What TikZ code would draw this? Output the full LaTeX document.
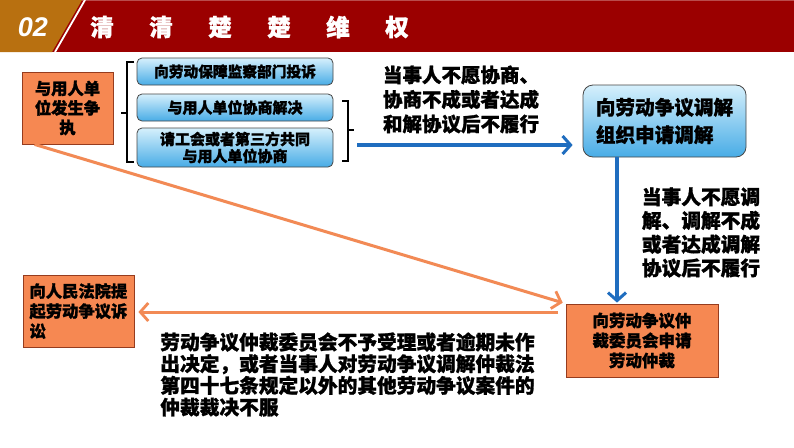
\documentclass[tikz,border=0pt]{standalone}
\usepackage{fontspec}
\setmainfont{Noto Sans CJK SC}[BoldFeatures={FakeBold=1.3}]
\newfontfamily\latinsans{Liberation Sans}
\usetikzlibrary{arrows.meta}
\definecolor{hdrred}{RGB}{155,0,0}
\definecolor{hdrgold}{RGB}{184,112,16}
\definecolor{orfill}{RGB}{246,136,82}
\definecolor{orline}{RGB}{150,60,30}
\definecolor{orarrow}{RGB}{242,138,85}
\definecolor{bluearrow}{RGB}{31,109,191}
\definecolor{bltop}{RGB}{214,240,252}
\definecolor{blbot}{RGB}{72,172,230}
\definecolor{blline}{RGB}{70,70,70}
\tikzset{
  orbox/.style={draw=orline, line width=0.8pt, fill=orfill, inner sep=0pt, font=\bfseries},
  bluebox/.style={draw=blline, line width=0.8pt, rounded corners=5pt, top color=bltop, bottom color=blbot, inner sep=0pt, font=\bfseries},
  lbl/.style={inner sep=0pt, align=left, font=\bfseries},
  brk/.style={line width=2.2pt, black},
  bluearr/.style={bluearrow, line width=3.2pt, -{Straight Barb[length=8pt,width=18pt,line width=3pt]}},
  orarr/.style={orarrow, line width=3pt, -{Straight Barb[length=8pt,width=18pt,line width=2.8pt]}},
}
\begin{document}
\begin{tikzpicture}[x=1pt,y=-1pt]
\useasboundingbox (0,0) rectangle (794,447);
\fill[white] (0,0) rectangle (794,447);
% header
\fill[hdrred] (0,0) rectangle (794,52);
\fill[hdrred!70!white] (0,0) rectangle (794,1.2);
\fill[hdrgold] (0,0) -- (82,0) -- (52,52) -- (0,52) -- cycle;
\draw[white, line width=1.8pt] (85,0) -- (55,52);
\node[text=white, inner sep=0pt, font=\latinsans\bfseries\itshape\fontsize{27}{30}\selectfont] (num) at (33,27.5) {02};
\foreach \c/\x [count=\i] in {清/102,清/161,楚/220,楚/279,维/338,权/397}
  \node[text=white, inner sep=0pt, font=\bfseries\fontsize{23.5}{26}\selectfont] (t\i) at (\x,27) {\c};
% left node
\node[orbox, minimum width=91pt, minimum height=72pt, align=center, font=\bfseries\fontsize{16.3}{19.5}\selectfont] (disp) at (67.5,108) {与用人单\\位发生争\\执};
% brackets
\draw[brk] (134,62) -- (127,62) -- (127,162) -- (134,162);
\draw[brk] (127,113) -- (121,113);
\draw[brk] (342,101) -- (348,101) -- (348,161) -- (342,161);
\draw[brk] (348,130) -- (354,130);
% blue boxes
\node[bluebox, minimum width=196pt, minimum height=27pt, font=\bfseries\fontsize{14.7}{17}\selectfont] (b1) at (235,71.5) {向劳动保障监察部门投诉};
\node[bluebox, minimum width=196pt, minimum height=27pt, font=\bfseries\fontsize{15}{17}\selectfont] (b2) at (235,107.5) {与用人单位协商解决};
\node[bluebox, minimum width=196pt, minimum height=39pt, align=center, font=\bfseries\fontsize{15}{17}\selectfont] (b3) at (235,147.5) {请工会或者第三方共同\\与用人单位协商};
% mediation box
\node[bluebox, rounded corners=10pt, minimum width=163pt, minimum height=72pt, align=left, font=\bfseries\fontsize{19.6}{27.5}\selectfont] (med) at (664.5,121) {向劳动争议调解\\组织申请调解};
% arbitration box
\node[orbox, minimum width=152pt, minimum height=73pt, align=center, font=\bfseries\fontsize{16.5}{20}\selectfont] (arb) at (642,340.5) {向劳动争议仲\\裁委员会申请\\劳动仲裁};
% court box
\node[orbox, minimum width=111pt, minimum height=72pt, align=left, font=\bfseries\fontsize{16.3}{20}\selectfont] (court) at (78.5,311) {\parbox{98pt}{\raggedright 向人民法院提\\起劳动争议诉\\讼}};
% labels
\node[lbl, font=\bfseries\fontsize{19.5}{24.5}\selectfont] (l1) at (461,99.5) {当事人不愿协商、\\协商不成或者达成\\和解协议后不履行};
\node[lbl, font=\bfseries\fontsize{19.7}{23.7}\selectfont] (l2) at (701,232.5) {当事人不愿调\\解、调解不成\\或者达成调解\\协议后不履行};
\node[lbl, font=\bfseries\fontsize{19.7}{21.7}\selectfont] (l3) at (347.5,374.5) {劳动争议仲裁委员会不予受理或者逾期未作\\出决定，或者当事人对劳动争议调解仲裁法\\第四十七条规定以外的其他劳动争议案件的\\仲裁裁决不服};
% connectors
\coordinate (a1) at (357,145);
\draw[bluearr, shorten >=10pt] (a1) -- (a1 -| med.west);
\coordinate (v1) at (617,157);
\draw[bluearr, shorten >=1pt] (v1) -- (v1 |- arb.north);
\coordinate (d1) at ([xshift=13pt]disp.south west);
\draw[orarr, shorten >=3pt] (d1) -- (arb.north west);
\coordinate (h1) at (558,312);
\draw[orarr, shorten >=4pt] (h1) -- (h1 -| court.east);
\end{tikzpicture}
\end{document}
